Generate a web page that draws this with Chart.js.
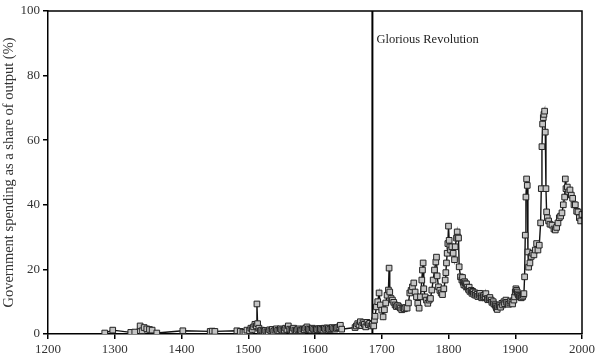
<!DOCTYPE html>
<html>
<head>
<meta charset="utf-8">
<script src="https://cdn.jsdelivr.net/npm/chart.js@4.4.1/dist/chart.umd.min.js"></script>
<style>
  html, body { margin: 0; padding: 0; background: #fff; }
  #wrap { width: 599px; height: 364px; }
</style>
</head>
<body>
<div id="wrap"><canvas id="spendChart"></canvas></div>
<script>
// Government spending as a share of output, England/UK
const YEARS = [
  1285,1297,1324,1330,1338,1341,1344,1348,1352,1356,1363,1402,1443,1446,1450,1483,1488,
  1492,1495,1498,1502,1504,1506,1508,1510,1512,1513,1514,1516,1518,
  1520,1522,1524,1526,1528,1530,1532,1534,1536,1538,1540,1542,1544,1546,1548,1550,
  1552,1554,1556,1558,1560,1562,1564,1566,1568,1570,1572,1574,1576,1578,1580,1582,
  1584,1586,1588,1590,1592,1594,1596,1598,1600,1602,1604,1606,1608,1610,1612,1614,
  1616,1618,1620,1622,1624,1626,1628,1630,1632,1634,1636,1638,1640,
  1660,1662,1664,1666,1668,1670,1672,1674,1676,1678,1680,1682,1684,1686,
  1688,1689,1690,1692,1694,1696,1698,1700,1702,1704,1706,1708,1710,1711,1712,1714,1716,
  1718,1720,1722,1724,1726,1728,1730,1732,1734,1736,1738,1740,1742,1744,1746,1748,1750,
  1752,1754,1756,1758,1760,1761,1762,1763,1765,1767,1769,1771,1773,1775,1777,1779,1781,
  1782,1783,1785,1787,1789,1791,1793,1795,1796,1797,1798,1799,1800,1801,1802,1803,1805,
  1807,1809,1810,1812,1813,1814,1815,1816,1818,
  1820,1821,1822,1823,1824,1825,1826,1827,1828,1830,1831,1832,1834,1835,1836,1837,1838,
  1840,1841,1843,1844,1846,1847,1849,1850,1852,1853,1855,1856,1858,1859,1861,1862,1864,
  1865,1867,1868,1870,1871,1872,1873,1874,1876,1877,1878,1880,1881,1883,1884,1886,1887,
  1889,1890,1892,1893,1895,1896,1898,1899,1900,1901,1902,1903,1904,1905,1906,1908,1909,
  1911,1912,1913,
  1914,1915,1916,1917,1918,1919,1920,
  1922,1924,1926,1928,1930,1932,1934,1936,1938,1939,1940,1941,1942,1943,1944,1945,1946,
  1947,1948,1950,1952,1955,1958,1960,1962,1964,1966,1968,1970,1972,1974,1975,1976,1978,
  1980,1982,1984,1986,1988,1990,1992,1994,1996,1998,2000
];
const SPENDING = [
  0.3,1.2,0.5,0.6,2.5,1.0,2.0,1.6,1.4,1.2,0.3,1.0,0.8,0.9,0.8,1.0,0.8,
  0.6,0.5,1.2,1.0,1.8,1.4,2.2,3.0,2.5,9.3,3.2,1.8,1.0,
  1.2,0.9,0.8,1.1,0.7,0.6,1.3,1.0,1.4,0.8,1.2,1.6,1.1,1.0,1.6,1.3,
  1.0,1.2,1.8,1.4,2.5,1.5,1.2,1.0,1.8,1.2,1.0,1.4,1.6,1.2,1.0,1.5,
  1.3,1.8,2.2,1.6,1.4,1.2,1.8,1.5,1.2,1.5,1.3,1.7,1.6,1.4,1.2,1.8,
  1.5,1.9,1.7,1.4,1.6,2.0,1.7,1.5,1.8,2.0,2.2,2.7,1.5,
  2.0,2.5,3.2,2.8,3.8,2.6,3.5,3.0,2.2,3.6,2.9,3.3,2.5,3.0,
  2.5,4.3,5.5,8.4,10.0,12.7,9.0,7.4,5.3,7.5,9.6,12.0,13.6,20.4,13.0,11.0,10.5,
  9.8,9.0,8.5,8.8,8.4,8.0,7.5,8.0,7.8,8.2,8.0,9.6,12.7,13.5,14.6,15.8,13.0,
  11.5,9.5,8.0,11.5,16.7,19.8,22.0,14.0,11.5,10.5,9.5,10.5,11.0,13.6,16.7,19.8,22.3,
  23.8,18.0,14.6,13.5,12.7,12.2,14.0,16.7,19.0,22.0,25.0,28.0,33.4,29.0,27.0,26.0,27.0,
  25.0,23.0,27.0,29.7,31.6,30.0,29.7,20.8,17.7,
  16.7,17.5,16.0,15.2,16.2,15.8,14.8,15.5,14.5,13.8,14.5,13.2,13.5,12.6,13.2,13.0,12.3,
  12.7,12.0,12.3,11.6,12.0,12.6,11.8,11.2,11.5,12.0,11.5,12.5,11.0,10.6,10.8,11.3,10.5,
  9.8,10.0,9.3,9.0,8.5,8.0,7.6,8.5,8.8,9.0,8.3,9.5,9.0,10.0,9.4,10.5,9.8,
  9.8,9.2,9.6,10.2,9.8,9.3,10.5,11.5,13.0,14.0,13.5,13.0,12.4,12.0,11.6,11.5,11.2,
  11.5,12.0,12.5,
  17.7,30.6,42.4,48.0,46.0,25.4,20.7,
  22.0,24.0,25.0,24.5,26.0,28.0,26.0,27.5,34.4,45.0,58.0,65.0,67.0,68.0,69.0,62.5,45.0,
  37.8,36.0,35.0,34.0,33.7,32.5,32.2,33.0,34.4,36.0,36.5,37.5,40.0,42.4,48.0,45.0,45.5,
  44.0,44.6,43.0,42.0,40.0,40.0,38.0,37.8,36.0,35.0,37.0
];
const X_TICKS = [1200,1300,1400,1500,1600,1700,1800,1900,2000];
const Y_TICKS = [0,20,40,60,80,100];
const EVENT_YEAR = 1686;
const EVENT_LABEL = "Glorious Revolution";

const SERIF = "'Liberation Serif', 'DejaVu Serif', serif";

const framePlugin = {
  id: "frame",
  afterDatasetsDraw(chart) {
    const { ctx, chartArea: a, scales } = chart;
    ctx.save();
    ctx.strokeStyle = "#000";
    ctx.lineWidth = 1.5;
    ctx.beginPath();
    ctx.moveTo(a.left, a.top);
    ctx.lineTo(a.right, a.top);
    ctx.lineTo(a.right, a.bottom);
    ctx.stroke();
    const ex = scales.x.getPixelForValue(EVENT_YEAR);
    ctx.fillStyle = "#222";
    ctx.font = "12.5px " + SERIF;
    ctx.textBaseline = "middle";
    ctx.fillText(EVENT_LABEL, ex + 4, scales.y.getPixelForValue(91));
    ctx.restore();
  },
};

new Chart(document.getElementById("spendChart"), {
  type: "line",
  data: {
    datasets: [
      {
        data: YEARS.map((x, i) => ({ x, y: SPENDING[i] })),
        borderColor: "#111",
        borderWidth: 1.4,
        pointStyle: "rect",
        pointRadius: 4,
        pointBackgroundColor: "#c4c4c4",
        pointBorderColor: "#222",
        pointBorderWidth: 1,
        tension: 0,
      },
      {
        data: [{ x: EVENT_YEAR, y: 0 }, { x: EVENT_YEAR, y: 100 }],
        borderColor: "#000",
        borderWidth: 2,
        pointRadius: 0,
      },
    ],
  },
  options: {
    responsive: true,
    maintainAspectRatio: false,
    animation: false,
    layout: { padding: { top: 11, right: 17, left: 0, bottom: 0 } },
    plugins: { legend: { display: false }, tooltip: { enabled: false } },
    scales: {
      x: {
        type: "linear",
        min: 1200,
        max: 2000,
        afterBuildTicks: (s) => { s.ticks = X_TICKS.map((v) => ({ value: v })); },
        afterFit: (s) => { s.height = 30; },
        grid: { drawOnChartArea: false, drawTicks: true, tickLength: 5, color: "#000", lineWidth: 1.5 },
        border: { display: true, color: "#000", width: 1.5 },
        ticks: {
          color: "#333",
          font: { family: SERIF, size: 13 },
          padding: 3,
          maxRotation: 0,
          callback: (v) => String(v),
        },
      },
      y: {
        min: 0,
        max: 100,
        afterBuildTicks: (s) => { s.ticks = Y_TICKS.map((v) => ({ value: v })); },
        afterFit: (s) => { s.width = 48; },
        grid: { drawOnChartArea: false, drawTicks: true, tickLength: 5, color: "#000", lineWidth: 1.5 },
        border: { display: true, color: "#000", width: 1.5 },
        ticks: { color: "#333", font: { family: SERIF, size: 13 }, padding: 3 },
        title: {
          display: true,
          text: "Government spending as a share of output (%)",
          color: "#333",
          font: { family: SERIF, size: 14.5 },
          padding: { top: 0, bottom: 1 },
        },
      },
    },
  },
  plugins: [framePlugin],
});
</script>
</body>
</html>
